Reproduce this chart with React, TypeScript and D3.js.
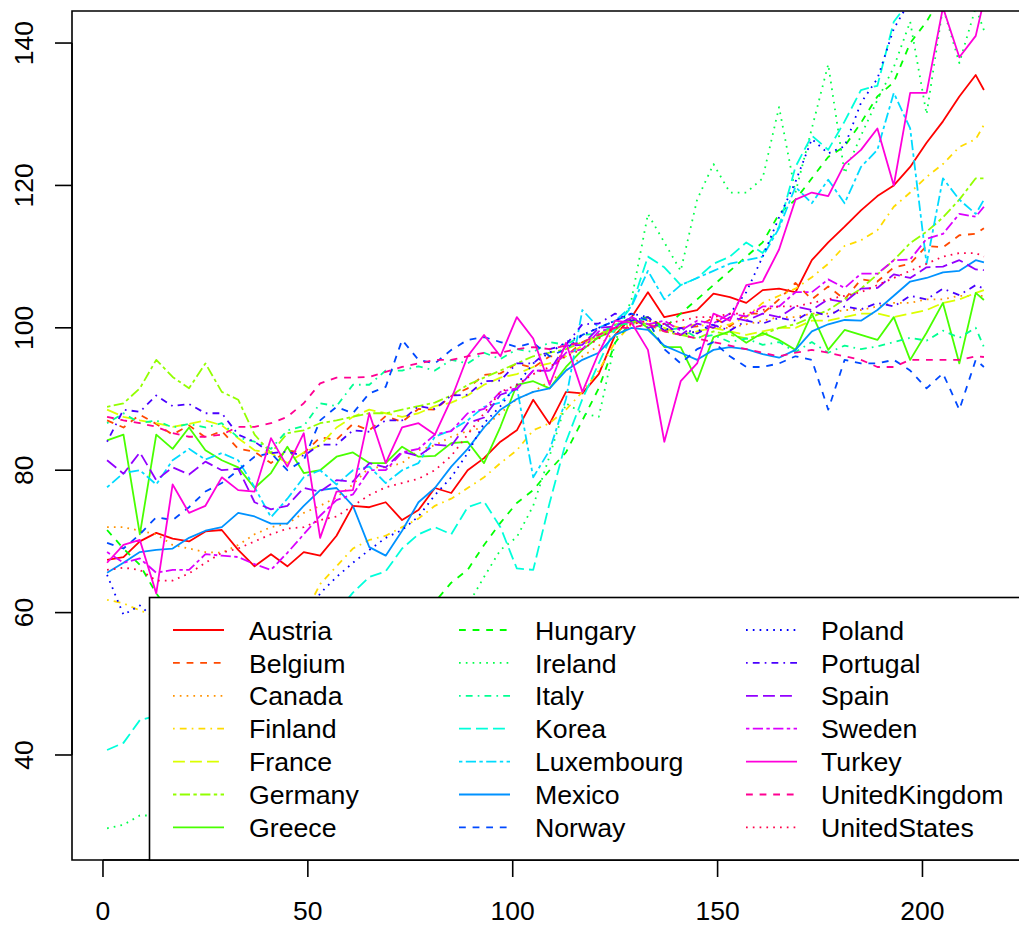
import React from "react";
import * as d3 from "d3";

const T = [1,5,9,13,17,21,25,29,33,37,41,45,49,53,57,61,65,69,73,77,81,85,89,93,97,101,105,109,113,117,121,125,129,133,137,141,145,149,153,157,161,165,169,173,177,181,185,189,193,197,201,205,209,213,215];

const Austria = [67.4,67.8,70,71.2,70.4,70,71.4,71.6,68.8,66.5,68.2,66.5,68.5,68,70.8,75,74.8,75.5,73,74.4,77.5,76.8,80,81.7,84,85.6,89.9,86.5,91,90.8,93.5,99,101.5,105,101.5,102,102.5,104.8,104.3,103.5,105.3,105.5,105,109.5,112,114.2,116.5,118.5,120,122.6,126,129,132.5,135.5,133.4];
const Belgium = [87,86,87.8,86.5,85,86.3,84.6,85.5,83,82.6,81,82.8,82.4,84.6,84.3,86.5,85.6,87.6,86.8,88.6,88.5,90.4,91.5,93.4,93.6,95,94.4,96,96,98,98.6,100.5,100.6,101.5,99.6,100,100.2,101.4,100.2,102,102,104,106.3,104,105.8,104,106.8,106.5,108.5,109,111.5,111.3,113,113.2,114];
const Canada = [72,72,71.5,71,69.5,69,68.5,68.4,69.5,71,72,72.5,74,75,76.2,78,80.4,80.4,81,82.8,83.5,84.7,85.5,86,88,90,91,92.5,94,96,97.5,99.5,100.5,100,99.5,99,99.5,100,100,100.5,101,101.5,101.5,102,102,102.5,102.5,103,103.5,103.5,104,104,104.5,104.5,104.5];
const Finland = [61.8,61.3,60.3,59.5,58,56.5,55,54,53.5,54,55,57,59.5,64,66.5,69,70.2,70.8,72,73.2,75,76,77.5,79,81,82.8,85.6,86.6,88.5,91,94,98,100.5,101,100.5,100,100.5,100,100.5,101.5,103.5,104.5,105.5,107.1,109,111.5,112.3,113.7,117,119,121.2,123,125.4,126.5,128.5];
const France = [88.5,87.5,87,86.6,86.1,86.5,87,86.3,84.5,82.8,82.4,81,82.5,83.5,86,87.5,88.5,88,87.5,88,89,89.5,90.5,92,93,93.5,94.5,95,96,97.5,99,100.5,101,100.5,100,99,99.5,100,99.5,99,99.5,100,100,101,101,101.5,102,102,101.5,102,102.5,103.5,104,104.9,105.3];
const Germany = [88.9,89.4,91.5,95.5,93.1,91.5,95,91,89.9,85,82.4,85.2,85.6,86.6,87,87.5,88,88,88.5,89,89.5,90.5,92,93,94,95,96,96.5,97,98,99,100,101,100.5,99.5,99,98.5,99.5,99,98.5,99,100,100.5,101.5,102.5,104,105.5,107.5,109.5,111.9,113.5,115.5,118,121,121];
const Greece = [84.2,85,71,85,83,86,82.8,81.4,80.4,77.5,79.6,83.3,79.6,80,81.9,82.5,81,81,83.3,81.9,82,83.8,84,81,86.1,92,92.5,91.5,94.5,96.9,98.7,99.7,101.5,100,97.3,97.3,92.5,98.7,99.5,97.9,99.3,98.3,96.9,102,96.9,99.7,99,98.3,101.5,95.5,99.3,103.5,95,104.9,103.9];
const Hungary = [71.6,69,66.7,62.7,59.5,57.8,56.3,53.9,52.4,50.2,49.3,47.6,47.2,46.8,48.1,49.7,52.3,53.8,56.4,58.6,61.5,64.2,66,69.5,72.6,75.4,77.2,80,82.5,87,91.5,97.9,101,101.5,100,102,104,106,108,110,112,116,118,121,124,125.5,128.8,132.5,134.5,140,143,147,148,149,150];
const Ireland = [29.7,30.2,31.5,31.5,33,34.5,36.2,37,38.8,39.5,41,41.6,43.2,44,45.5,46.1,47.8,48.5,50,52,55,58,61,65,68.8,70.6,75,82,89.4,88,87.5,98,104,116,112,108,118,123,119,119,121,131,119,128,137,121.7,127,132,136.6,143,130,145,137.2,145,141.8];
const Italy = [86.6,88,86.6,87,86,86.5,86,86.6,84.6,84,83,85.6,86.2,89.4,89,92,92,94,94,94.6,94,95.5,95,96.5,95.6,97,96.6,98,97.6,99,99.2,100.4,100.6,101.4,99.6,100,98.6,99,98,98.5,97.6,98,96.6,98,96.5,97.5,97,97.4,98,98.6,98.2,99.6,98.6,100,97.3];
const Korea = [40.7,41.7,44.9,45.5,46,47,48.5,49.5,50.5,52,53,54.5,56.5,59,60,62.8,65,65.8,69,71,72,71,74.8,75.6,72,66.2,66,75.4,84,90,95,100,103,110,108.5,106,107,109,110,112,110.5,114.2,122.6,127,125,129,133.4,134,143,146,147,148,149,150,150];
const Luxembourg = [77.6,79.6,80,78,81.4,83,81.5,82.4,81.4,77.6,73.4,76,79,80,78,80,80.5,78.2,80,81,84.7,85.6,87,88.9,89.5,91.7,79,82.8,90,102.5,100,101,103,108,104,106,107,108,109,109.5,110,114,119.8,117.5,120.8,117.5,122.6,125,133,128,109,121,118,116,118];
const Mexico = [65.6,67,68.5,68.8,69,70.5,71.5,72,74,73.5,72.5,72.5,75,77.2,77.5,75,69.2,68,71.5,75.5,77.5,80.5,83,86,88.5,90,91,91.5,94,95.5,96.5,99,100,99.7,97.5,96.5,95.5,96.9,97.3,97,96.3,95.8,96.9,99.5,100.5,101.1,101,102.5,104.5,106.5,107,107.8,108,109.5,109.2];
const Norway = [69.8,69,71,73.4,73,74.8,77,78.2,80,81.9,82.4,80,81.4,87,88.9,88,90.8,91.7,98.3,95.5,95,96.9,98.3,98.7,98,97.3,97.9,96,97,99,100,101,102,101,97,95,97,98,96,94.5,94.5,95,96,95.5,88.5,95.5,95,95,95.5,94,91.5,93.6,88.5,95.5,94.5];
const Poland = [65.3,59.7,61,59,57,55,54,53,54,55,56,57,58.5,62.7,65,67,68.8,70.5,71.6,73.5,76.5,79,82.4,86.6,89,92,95,96.5,98,99,100,101,102,101.5,100,99,99.5,100.5,102,105,110,115.5,120.5,126.5,124.5,125.5,131.6,135,142,146,147,148,148,149,149];
const Portugal = [84,88.5,88.2,90.5,89,89.3,88,88,85,84,82.4,82.6,82,83.6,83.6,85.6,85.4,87,87,89,88.6,90.5,90.6,92.5,92.6,95,95,97,97.6,100.5,100.6,102,101,101.5,99.6,100,99.2,100.4,99.6,101,100.6,101.4,101,102.4,101.6,103,102.6,103.5,103,104.5,104,105.5,104.6,106,105.5];
const Spain = [81.4,79.5,82.5,78.6,80.4,79.4,81.2,80,80.2,75.5,74.5,75,77.5,77,78.6,78.4,81,80.4,82.6,82,83.6,83.4,86.6,87.4,90.6,91.4,94,94,97.5,97.6,100,100.2,101.5,100,100.6,99,100.6,100,101.5,101,102,101.5,103,102.5,104,103.6,105.5,105.6,107.5,107,108.5,108.6,109.5,108.2,108.1];
const Sweden = [68.5,67,67.6,65.6,66,66,68.2,68,67.8,66.8,66,68.4,71,73.6,75.8,76.6,80,80,82.5,83,85,85.5,88,88.6,91,91.5,94,94,96.5,97,99.5,100,101.5,100.5,101,99.6,101,100.6,102,101.6,103,103,105,105,106.8,105.6,107.6,107.6,109.5,109.6,112.5,113.2,116,115.6,117];
const Turkey = [67,69.5,70.2,62.7,78,74,75,79,77.2,77,84.5,80.5,85.2,70.5,77,77.2,88,81,86,86.6,85,90,96,99,96,101.5,98.5,92,97.9,91,96.5,101,100.7,96.9,84,92.5,95,102,101,106,106.5,111,118,119,118.5,123,125,128,120,133,133,145,138,141,146];
const UnitedKingdom = [87.5,87,86.6,86.1,85.2,84.7,84.7,85,86.1,86.1,86.6,87.5,89.4,92.2,93,93,93.1,93.8,94.5,95,95.5,95.5,96,96.5,96.5,97,97.3,97,97.5,98,99,100,100,100.5,99.5,99,98.5,98,97.5,97,96.5,96,96.5,96.9,96.5,96,95.5,94.5,94.5,95.5,95.5,95.5,95.5,96,95.9];
const UnitedStates = [66,66.3,66,64.5,64.5,65.5,67,68.4,69,70,71,71.8,72,73,73.5,75,76.5,77.6,78.2,78.8,80,82,85,88,91,92,93.5,94.5,96,97,98.5,100,100.5,101,100.5,101,101.5,101.5,102,102,102.5,103,103,103.5,104,104.5,105,106,107,108,109,110,110.5,110.5,110];

const countryNames = ["Austria","Belgium","Canada","Finland","France","Germany","Greece","Hungary","Ireland","Italy","Korea","Luxembourg","Mexico","Norway","Poland","Portugal","Spain","Sweden","Turkey","UnitedKingdom","UnitedStates"];
const countryValues = [Austria,Belgium,Canada,Finland,France,Germany,Greece,Hungary,Ireland,Italy,Korea,Luxembourg,Mexico,Norway,Poland,Portugal,Spain,Sweden,Turkey,UnitedKingdom,UnitedStates];
const colors = ["#FF0000","#FF4900","#FF9200","#FFDB00","#DBFF00","#92FF00","#49FF00","#00FF00","#00FF49","#00FF92","#00FFDB","#00DBFF","#0092FF","#0049FF","#0000FF","#4900FF","#9200FF","#DB00FF","#FF00DB","#FF0092","#FF0049"];
const xTicks = [0, 50, 100, 150, 200];
const yTicks = [40, 60, 80, 100, 120, 140];

const U = 1.7;
const dashFor = (i: number): string | undefined => {
  const lty = (i % 6) + 1;
  switch (lty) {
    case 2: return `${4 * U} ${4 * U}`;
    case 3: return `${1 * U} ${3 * U}`;
    case 4: return `${1 * U} ${3 * U} ${4 * U} ${3 * U}`;
    case 5: return `${7 * U} ${3 * U}`;
    case 6: return `${2 * U} ${2 * U} ${6 * U} ${2 * U}`;
    default: return undefined;
  }
};

const FONT = "'Liberation Sans', Arial, Helvetica, sans-serif";

export default function App() {
  const L = 72, R = 1019, TOP = 11, B = 860;
  const x = d3.scaleLinear().domain([-7.56, 223.56]).range([L, R]);
  const y = d3.scaleLinear().domain([25.25, 144.5]).range([B, TOP]);
  const line = d3.line<number>().x((_, i) => x(T[i])).y((d) => y(d));

  const legX = 149.5, legY = 597.5;
  const colLineX = [173, 459, 746];
  const colLineW = 51;
  const colTextX = [249, 535, 821];
  const rowY0 = 630, rowStep = 32.9;

  return (
    <svg width={1019} height={929} style={{ position: "absolute", left: 0, top: 0, background: "#fff" }}
      fontFamily={FONT}>
      <defs>
        <clipPath id="plotclip">
          <rect x={L} y={TOP} width={R - L + 5} height={B - TOP} />
        </clipPath>
      </defs>
      <rect x={0} y={0} width={1019} height={929} fill="#fff" />
      <g clipPath="url(#plotclip)">
        {countryValues.map((vals, i) => (
          <path key={countryNames[i]} d={line(vals) || ""} fill="none" stroke={colors[i]}
            strokeWidth={1.8} strokeDasharray={dashFor(i)} strokeLinejoin="round" />
        ))}
      </g>
      <path d={`M${R + 5},${TOP}H${L}V${B}H${R + 5}`} fill="none" stroke="#000" strokeWidth={1.6} />
      <line x1={x(0)} x2={x(200)} y1={B} y2={B} stroke="#000" strokeWidth={1.6} />
      {xTicks.map((t) => (
        <g key={"x" + t}>
          <line x1={x(t)} x2={x(t)} y1={B} y2={B + 17} stroke="#000" strokeWidth={1.6} />
          <text x={x(t)} y={920} textAnchor="middle" fontSize={26.5} fill="#000">{t}</text>
        </g>
      ))}
      <line x1={L} x2={L} y1={y(40)} y2={y(140)} stroke="#000" strokeWidth={1.6} />
      {yTicks.map((t) => (
        <g key={"y" + t}>
          <line x1={L} x2={L - 17} y1={y(t)} y2={y(t)} stroke="#000" strokeWidth={1.6} />
          <text x={33} y={y(t)} transform={`rotate(-90, 33, ${y(t)})`} textAnchor="middle" fontSize={26.5} fill="#000">{t}</text>
        </g>
      ))}
      <rect x={legX} y={legY} width={1019 - legX + 10} height={B - legY} fill="#fff" stroke="#000" strokeWidth={1.6} />
      {countryNames.map((name, i) => {
        const col = Math.floor(i / 7);
        const row = i % 7;
        const cy = rowY0 + row * rowStep;
        return (
          <g key={"leg" + name}>
            <line x1={colLineX[col]} x2={colLineX[col] + colLineW} y1={cy} y2={cy} stroke={colors[i]}
              strokeWidth={1.8} strokeDasharray={dashFor(i)} />
            <text x={colTextX[col]} y={cy + 9.6} fontSize={26.7} fill="#000">{name}</text>
          </g>
        );
      })}
    </svg>
  );
}
